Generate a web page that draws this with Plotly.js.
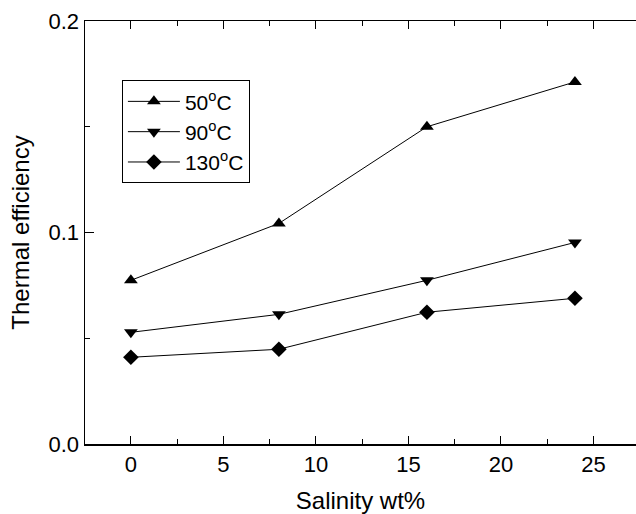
<!DOCTYPE html>
<html>
<head>
<meta charset="utf-8">
<script src="https://cdn.plot.ly/plotly-3.0.1.min.js"></script>
<style>html,body{margin:0;padding:0;background:#fff;}</style>
</head>
<body>
<div id="chart" style="width:636px;height:514px;"></div>
<script>
const salinity = [0, 8, 16, 24];
const eff50 = [0.0774, 0.1043, 0.1500, 0.1712];
const eff90 = [0.0528, 0.0613, 0.0774, 0.0953];
const eff130 = [0.0410, 0.0448, 0.0623, 0.0689];
const seriesNames = ['50<sup>o</sup>C', '90<sup>o</sup>C', '130<sup>o</sup>C'];
const xTicks = [0, 5, 10, 15, 20, 25];
const yTicks = [0.0, 0.1, 0.2];
const yTickLabels = ['0.0', '0.1', '0.2'];

const font = 'Arial, "Liberation Sans", sans-serif';
function tr(y, name, sym) {
  return {x: salinity, y: y, name: name, type: 'scatter', mode: 'lines+markers',
    line: {color: '#000', width: 1},
    marker: {symbol: sym, size: 12, color: '#000'}};
}
const data = [
  tr(eff50, seriesNames[0], 'triangle-up'),
  tr(eff90, seriesNames[1], 'triangle-down'),
  tr(eff130, seriesNames[2], 'diamond')
];
const layout = {
  width: 636, height: 514,
  margin: {l: 85, r: 0, t: 21, b: 70},
  paper_bgcolor: '#fff', plot_bgcolor: '#fff',
  font: {family: font, size: 21, color: '#000'},
  showlegend: true,
  legend: {x: 0.067, y: 0.86, xanchor: 'left', yanchor: 'top',
    bordercolor: '#000', borderwidth: 1, bgcolor: '#fff',
    font: {family: font, size: 21, color: '#000'}, itemwidth: 52},
  xaxis: {range: [-2.48, 27.3], tickvals: xTicks, ticks: 'inside', ticklen: 8,
    tickcolor: '#000', tickwidth: 1, showline: true, linecolor: '#000', linewidth: 1.5,
    mirror: 'ticks', showgrid: false, zeroline: false,
    minor: {dtick: 2.5, ticks: 'inside', ticklen: 5, tickcolor: '#000', tickwidth: 1},
    tickfont: {size: 22},
    title: {text: 'Salinity wt%', font: {size: 24}, standoff: 16}},
  yaxis: {range: [0, 0.2], tickvals: yTicks, ticktext: yTickLabels, ticks: 'inside', ticklen: 9,
    tickcolor: '#000', tickwidth: 1, showline: true, linecolor: '#000', linewidth: 1.5,
    showgrid: false, zeroline: false,
    minor: {dtick: 0.05, ticks: 'inside', ticklen: 5, tickcolor: '#000', tickwidth: 1},
    tickfont: {size: 22},
    title: {text: 'Thermal efficiency', font: {size: 24}, standoff: 12}}
};
Plotly.newPlot('chart', data, layout, {displayModeBar: false, staticPlot: true});
</script>
</body>
</html>
